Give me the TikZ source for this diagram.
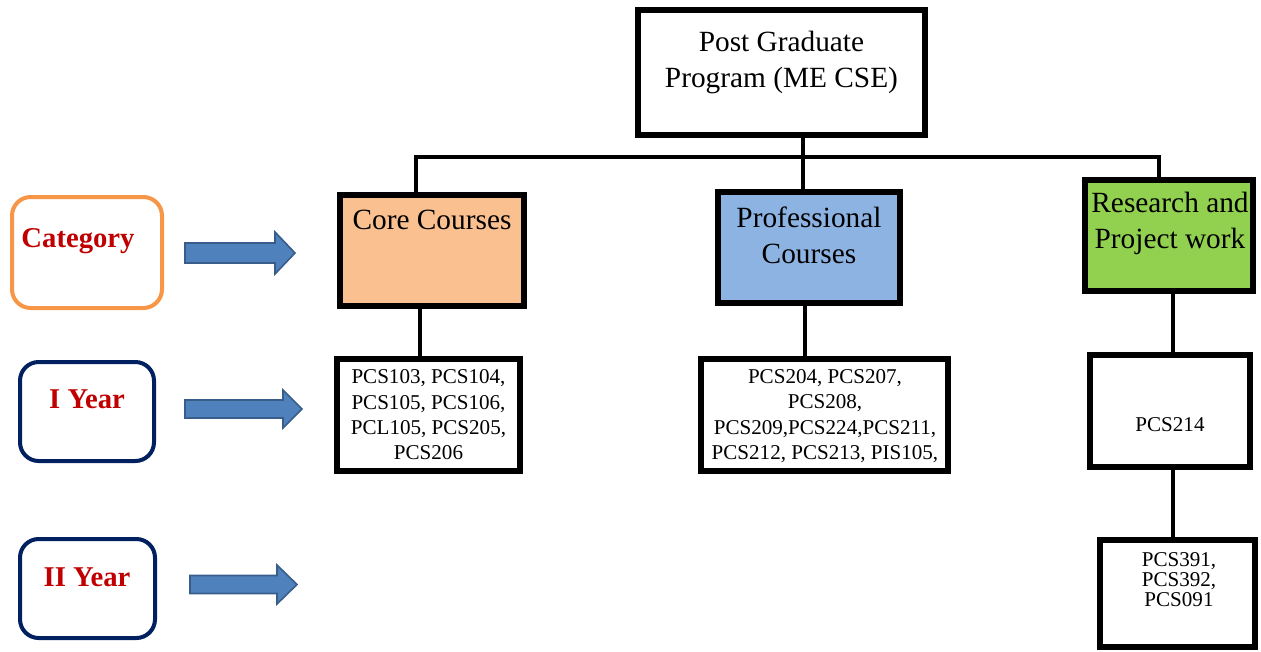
\documentclass[tikz,border=0pt]{standalone}
\usepackage{fontspec}
\setmainfont{Liberation Serif}
\definecolor{coreF}{HTML}{FAC090}
\definecolor{profF}{HTML}{8DB3E2}
\definecolor{resF}{HTML}{92D050}
\definecolor{catO}{HTML}{F79646}
\definecolor{navy}{HTML}{002060}
\definecolor{lblred}{HTML}{C00000}
\definecolor{arrF}{HTML}{4F81BD}
\definecolor{arrD}{HTML}{385D8A}
\newcommand\myarrow[7]{%
  \fill[arrF,draw=arrD,line width=1.2pt,line join=miter]
    (#1,#4-#5) -- (#2,#4-#5) -- (#2,#4-#6) -- (#3,#4) -- (#2,#4+#6)
    -- (#2,#4+#5) -- (#1,#4+#5) -- cycle;
  \coordinate (#7) at (#3,#4);}
\begin{document}
\begin{tikzpicture}[x=0.75pt,y=-0.75pt,
  mainbox/.style={draw=black,line width=4.5pt,inner sep=0pt,rectangle},
  sidebox/.style={draw,line width=3pt,rounded corners=14pt,inner sep=0pt,fill=white},
  bigtxt/.style={align=center,inner sep=0pt,font=\fontsize{22}{27}\selectfont},
  smalltxt/.style={align=center,inner sep=0pt,font=\fontsize{15.8}{19}\selectfont},
  sidetxt/.style={inner sep=0pt,text=lblred,font=\fontsize{21.5}{26}\selectfont\bfseries},
  conn/.style={line width=3pt,line cap=rect}]
\useasboundingbox (0,0) rectangle (1261,651);
% main boxes
\node[mainbox,minimum width=215.25pt,minimum height=93.75pt] (top) at (781.5,72.5) {};
\node[mainbox,fill=coreF,minimum width=138pt,minimum height=83.25pt] (core) at (432,250.5) {};
\node[mainbox,fill=profF,minimum width=136.5pt,minimum height=83.25pt] (prof) at (809,247.5) {};
\node[mainbox,fill=resF,minimum width=126pt,minimum height=83.25pt] (res) at (1169,235.5) {};
\node[mainbox,minimum width=137.25pt,minimum height=84pt] (corecode) at (428.5,415) {};
\node[mainbox,minimum width=185.25pt,minimum height=84pt] (profcode) at (824.5,415) {};
\node[mainbox,minimum width=120pt,minimum height=84pt] (rescode) at (1170,411) {};
\node[mainbox,minimum width=116.25pt,minimum height=80.25pt] (final) at (1177.5,593.5) {};
% texts
\node[bigtxt] (topT) at (781.5,62) {Post Graduate\\Program (ME CSE)};
\node[bigtxt] (coreT) at (432,220) {Core Courses};
\node[bigtxt] (profT) at (809,235) {Professional\\Courses};
\node[bigtxt] (resT) at (1170,223) {Research and\\Project work};
\node[smalltxt] (corecodeT) at (428.5,415) {PCS103, PCS104,\\PCS105, PCS106,\\PCL105, PCS205,\\PCS206};
\node[smalltxt] (profcodeT) at (825,416) {PCS204, PCS207,\\PCS208,\\PCS209,PCS224,PCS211,\\PCS212, PCS213, PIS105,};
\node[smalltxt] (rescodeT) at (1170,425) {PCS214};
\node[smalltxt,font=\fontsize{15.8}{15}\selectfont] (finalT) at (1179,580) {PCS391,\\PCS392,\\PCS091};
% connectors
\coordinate (jl) at (416,157);
\coordinate (jm) at (803,157);
\coordinate (jr) at (1159,157);
\draw[conn] (jm |- top.south) -- (jm |- prof.north);
\draw[conn,line cap=butt] (jl |- core.north) -- (jl) -- (jr) -- (jr |- res.north);
\draw[conn] (420,0 |- core.south) -- (420,0 |- corecode.north);
\draw[conn] (805,0 |- prof.south) -- (805,0 |- profcode.north);
\draw[conn] (1173,0 |- res.south) -- (1173,0 |- rescode.north);
\draw[conn] (1173,0 |- rescode.south) -- (1173,0 |- final.north);
% side boxes
\node[sidebox,draw=catO,minimum width=112.5pt,minimum height=83.25pt] (cat) at (87,252.5) {};
\node[sidebox,draw=navy,minimum width=100.5pt,minimum height=74.25pt] (y1) at (87,411.5) {};
\node[sidebox,draw=navy,minimum width=101.25pt,minimum height=74.25pt] (y2) at (87.5,588.5) {};
\node[sidetxt] (catT) at (78,241) {Category};
\node[sidetxt] (y1T) at (87,399) {I Year};
\node[sidetxt] (y2T) at (87,577) {II Year};
% block arrows
\myarrow{185}{275}{295}{253}{10}{21}{a1}
\myarrow{185}{283}{302}{409}{9}{19}{a2}
\myarrow{190}{277}{297}{584.5}{9}{19.5}{a3}
\end{tikzpicture}
\end{document}
